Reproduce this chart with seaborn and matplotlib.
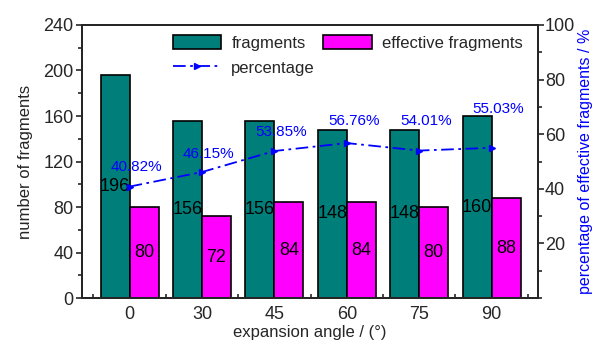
import matplotlib
matplotlib.use('Agg')
import matplotlib.pyplot as plt
from matplotlib.ticker import MultipleLocator, FixedLocator
import numpy as np
import pandas as pd
import seaborn as sns

# Data
angles = ['0', '30', '45', '60', '75', '90']
fragments = [196, 156, 156, 148, 148, 160]
effective = [80, 72, 84, 84, 80, 88]
percentage = [40.82, 46.15, 53.85, 56.76, 54.01, 55.03]

sns.set_style('ticks')
plt.rcParams['font.family'] = ['Liberation Sans', 'DejaVu Sans']

teal = '#007f7a'
magenta = '#ff00ff'
blue = '#0000ff'

df = pd.DataFrame({
    'angle': angles * 2,
    'count': fragments + effective,
    'type': ['fragments'] * len(angles) + ['effective fragments'] * len(angles),
})

fig = plt.figure(figsize=(5.97, 3.47), dpi=100)
ax = fig.add_axes([0.137, 0.141, 0.764, 0.787])

sns.barplot(data=df, x='angle', y='count', hue='type', order=angles,
            palette=[teal, magenta], edgecolor='black', linewidth=1.2,
            width=0.8, saturation=1, ax=ax, legend=True)

# bar value labels in the middle of each bar
for cont in ax.containers:
    ax.bar_label(cont, label_type='center', fontsize=13, color='black')

ax.set_ylim(0, 240)
ax.set_xlim(-0.66, 5.64)
ax.yaxis.set_major_locator(MultipleLocator(40))
ax.yaxis.set_minor_locator(MultipleLocator(20))
ax.xaxis.set_minor_locator(FixedLocator(np.arange(-0.5, len(angles), 1.0)))
ax.tick_params(axis='y', which='major', labelsize=13, direction='out', length=4, width=1.2, pad=2)
ax.tick_params(axis='y', which='minor', direction='out', length=3, width=1.2)
ax.tick_params(axis='x', which='major', labelsize=13, length=0, pad=6)
ax.tick_params(axis='x', which='minor', direction='in', length=3, width=1.2)
ax.set_xlabel('expansion angle / (°)', fontsize=12, labelpad=1)
ax.set_ylabel('number of fragments', fontsize=12, labelpad=7)
for s in ax.spines.values():
    s.set_linewidth(1.4)

# percentage on the right axis
ax2 = ax.twinx()
xpos = np.arange(len(angles))
line, = ax2.plot(xpos, percentage, color=blue, linestyle=(0, (7, 2.5, 1.5, 2.5)),
                 linewidth=1.3, marker='>', markersize=4.5, label='percentage')
offsets = [14, 13, 14, 16, 21, 28]
for x, p, dy in zip(xpos, percentage, offsets):
    ax2.annotate(f'{p:.2f}%', (x, p), xytext=(5, dy), textcoords='offset points',
                 ha='center', va='center', color=blue, fontsize=11)
ax2.set_ylim(0, 100)
ax2.yaxis.set_major_locator(FixedLocator([20, 40, 60, 80, 100]))
ax2.yaxis.set_minor_locator(MultipleLocator(10))
ax2.tick_params(axis='y', which='major', labelsize=13, direction='out', length=4, width=1.2, pad=1)
ax2.tick_params(axis='y', which='minor', direction='out', length=3, width=1.2)
ax2.set_ylabel('percentage of effective fragments / %', fontsize=11.5, color=blue, labelpad=2)
for s in ax2.spines.values():
    s.set_linewidth(1.4)

# legend: fragments / effective on first row, percentage below
handles, labels = ax.get_legend_handles_labels()
ax.get_legend().remove()
leg = ax2.legend([handles[0], line, handles[1]],
                 ['fragments', 'percentage', 'effective fragments'],
                 ncol=2, loc='upper left', bbox_to_anchor=(0.2, 0.965),
                 frameon=False, fontsize=12, borderpad=0, borderaxespad=0,
                 handlelength=2.9, handleheight=1.0, handletextpad=0.6,
                 columnspacing=0.5, labelspacing=0.55)

fig.savefig('out.png', dpi=100)
